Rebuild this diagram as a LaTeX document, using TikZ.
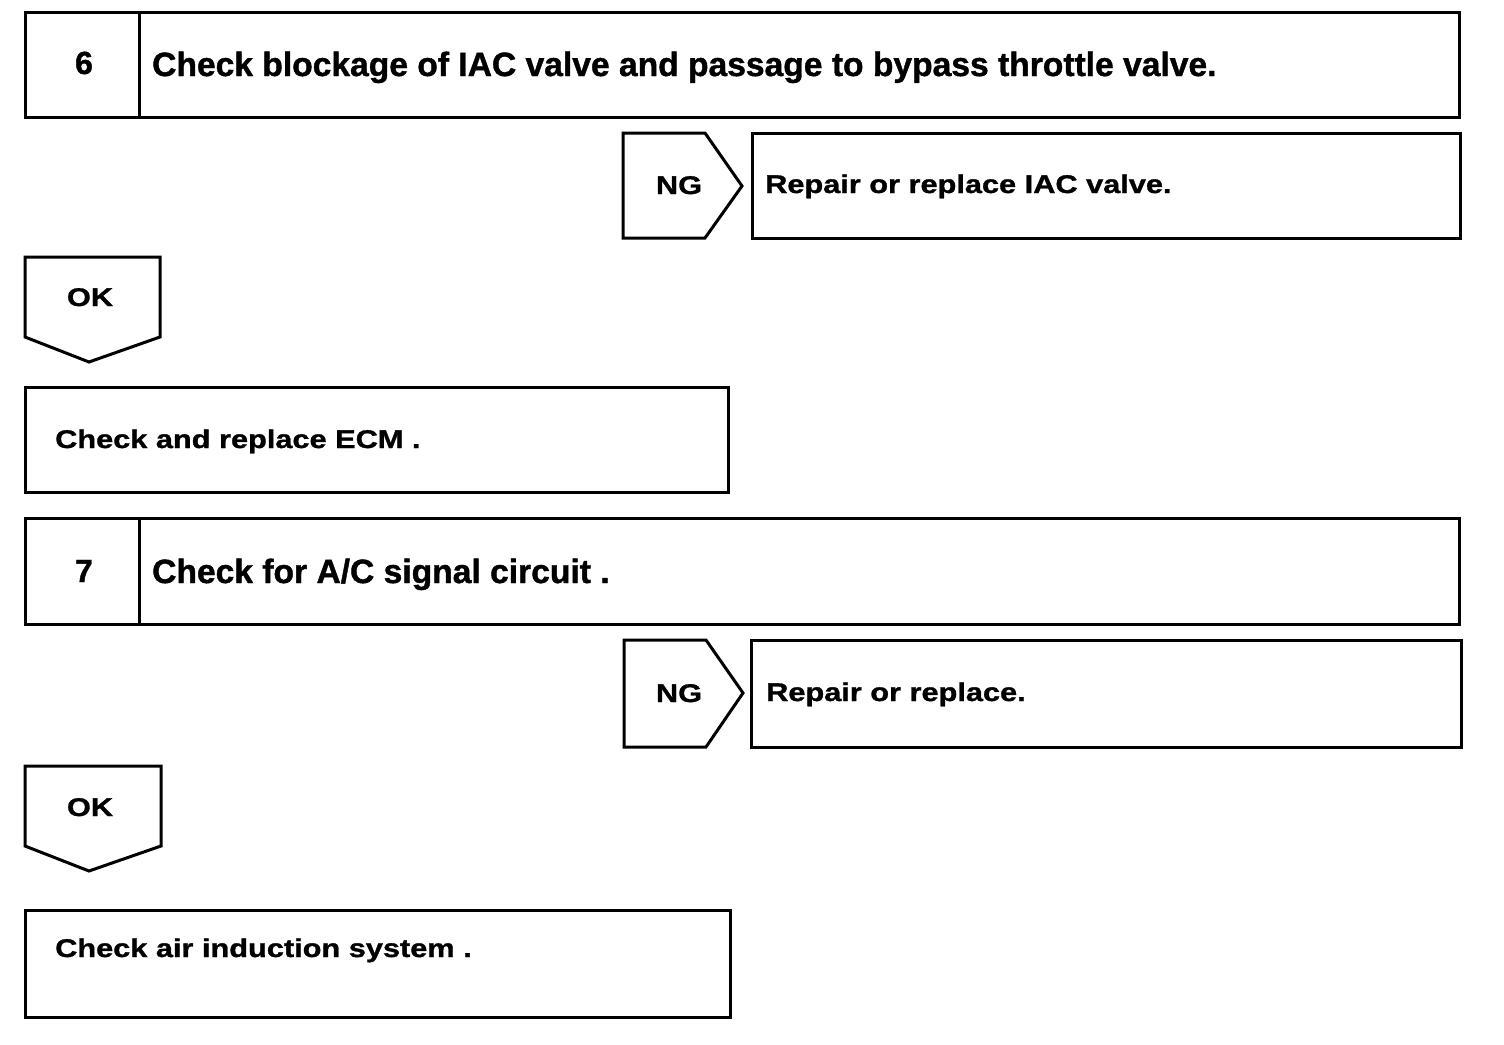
\documentclass[tikz,border=0pt]{standalone}
\usepackage{fontspec}
\setmainfont{Liberation Sans}
\newfontfamily\smallfam{Liberation Sans Bold}[FakeStretch=1.2,FakeBold=1.2]
\newfontfamily\titlefam{Liberation Sans Bold}[FakeBold=1.2]
\begin{document}
\begin{tikzpicture}[x=1pt,y=-1pt,
  ln/.style={line width=3pt, line join=miter},
  box/.style={draw, line width=3pt, inner sep=0pt, outer sep=0pt, anchor=north west},
  ttl/.style={font=\titlefam\fontsize{33.6}{40}\selectfont, inner sep=0pt, anchor=base west},
  num/.style={font=\titlefam\fontsize{32}{40}\selectfont, inner sep=0pt, anchor=base},
  sml/.style={font=\smallfam\fontsize{25.6}{30}\selectfont, inner sep=0pt, anchor=base west},
  tag/.style={font=\smallfam\fontsize{25.6}{30}\selectfont, inner sep=0pt, anchor=base}]
\useasboundingbox (0,0) rectangle (1504,1044);
\fill[white] (0,0) rectangle (1504,1044);

% ---- step 6
\node[box, minimum width=1434pt, minimum height=105pt] (b6) at (25,12) {};
\draw[ln] ([xshift=114pt]b6.north west) -- ([xshift=114pt]b6.south west);
\node[num] (n6) at (84,74) {6};
\node[ttl] (t6) at (152,76) {Check blockage of IAC valve and passage to bypass throttle valve.};

% NG 1
\draw[ln] (623,133) -- (705,133) -- (742,186) -- (705,238) -- (623,238) -- cycle;
\node[tag] (ng1) at (679,194) {NG};
\node[box, minimum width=708pt, minimum height=105pt] (r1) at (752,133) {};
\node[sml] (r1t) at (765,193) {Repair or replace IAC valve.};

% OK 1
\draw[ln] (25,257) -- (160,257) -- (160,337) -- (89,362) -- (25,337) -- cycle;
\node[tag] (ok1) at (90,306) {OK};

% ECM
\node[box, minimum width=703pt, minimum height=105pt] (e1) at (25,387) {};
\node[sml] (e1t) at (55,448) {Check and replace ECM .};

% ---- step 7
\node[box, minimum width=1434pt, minimum height=106pt] (b7) at (25,518) {};
\draw[ln] ([xshift=114pt]b7.north west) -- ([xshift=114pt]b7.south west);
\node[num] (n7) at (84,582) {7};
\node[ttl] (t7) at (152,583) {Check for A/C signal circuit .};

% NG 2
\draw[ln] (624,640) -- (706,640) -- (743,693) -- (706,747) -- (624,747) -- cycle;
\node[tag] (ng2) at (679,702) {NG};
\node[box, minimum width=710pt, minimum height=107pt] (r2) at (751,640) {};
\node[sml] (r2t) at (766,701) {Repair or replace.};

% OK 2
\draw[ln] (25,766) -- (161,766) -- (161,846) -- (89,871) -- (25,846) -- cycle;
\node[tag] (ok2) at (90,816) {OK};

% Air
\node[box, minimum width=705pt, minimum height=107pt] (a1) at (25,910) {};
\node[sml] (a1t) at (55,957) {Check air induction system .};
\end{tikzpicture}
\end{document}
